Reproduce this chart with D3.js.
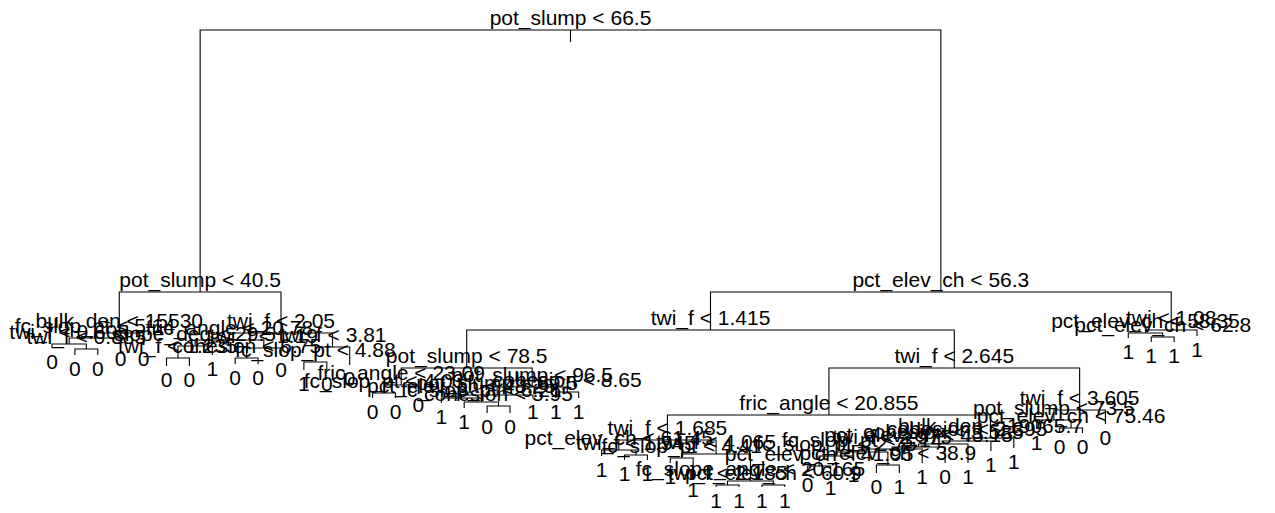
<!DOCTYPE html>
<html><head><meta charset="utf-8">
<script src="https://cdn.jsdelivr.net/npm/d3@7"></script>
<style>body{margin:0;background:#fff} svg{display:block}</style>
</head><body>
<svg id="chart" width="1275" height="513"></svg>
<script>
// Tree nodes, R "tree" numbering (children of n are 2n and 2n+1), in preorder.
const nodeId = [1,2,4,8,16,32,33,66,67,17,9,5,10,20,40,80,81,41,21,42,84,85,43,11,22,44,45,23,
  3,6,12,24,48,96,97,49,25,50,100,200,201,402,403,806,807,101,51,102,103,
  13,26,52,104,208,209,418,419,105,210,420,421,211,422,844,845,423,846,847,
  53,106,212,424,848,1696,3392,6784,13568,13569,6785,3393,6786,6787,1697,849,425,213,107,
  27,54,108,109,218,219,55,7,14,28,29,58,59,15];
// split rule for internal nodes, predicted class for leaves
const nodeLabel = ["pot_slump < 66.5","pot_slump < 40.5","bulk_den < 15530","fc_slop_pt < 5.14","twi_f < 0.605","0","twi_f < 0.885","0","0","0","0",
  "twi_f < 2.05","fric_angle < 20.78","slope_deg < 29.5","twi_f < 1.235","0","0","1","twi_f < 1.19","cohesion < 6.75","0","0","0",
  "twi_f < 3.81","fc_slop_pt < 4.88","1","0","0",
  "pct_elev_ch < 56.3","twi_f < 1.415","pot_slump < 78.5","fric_angle < 23.09","fc_slop_pt < 4.03","0","0","0",
  "pot_slump < 96.5","pot_slump < 69.5","pct_elev_ch < 48.25","1","fc_slop_pt < 6.21","1","cohesion < 5.95","0","0","1",
  "cohesion < 8.65","1","1",
  "twi_f < 2.645","fric_angle < 20.855","twi_f < 1.685","pct_elev_ch < 61.45","1","twi_f < 1.545","1","1",
  "twi_f < 4.065","fc_slop_pt < 4.41","1","1","fc_slope_angle < 20.165","twi_f < 2.185","1","1","pct_elev_ch < 60.9","1","1",
  "bulk_den < 19065.7","cohesion < 2.395","cohesion < 3.585","pct_elev_ch < 45.15","twi_f < 2.975","fc_slop_pt < 3.14",
  "fc_slop_pt < 2.75","pct_elev_ch < 41.95","0","1","1","pct_elev_ch < 38.9","0","1","1","0","1","1","1",
  "twi_f < 3.605","pot_slump < 73.5","1","pct_elev_ch < 75.46","0","0","0",
  "twi < 1.08","pct_elev_ch < 58.35","1","pct_elev_ch < 62.8","1","1","1"];
// node height (deviance scale, root highest)
const nodeDev = [470,208,167,162,156,152,151,145,145,155,155,167,160,154,142,134,134,145,152,142,136,136,144,
  153,138,130,130,135,
  208,170,132,115,107,102,102,109,113,105,102,97,98,92,94,87,87,102,108,102,102,
  132,85,60,50,44,45,40,40,46,42,37,24,19,15,13,13,15,13,13,
  62,59,56,53,51,48,44,34,29,26,39,35,27,27,37,37,37,49,52,
  90,80,71,72,67,67,76,170,167,162,163,158,158,164];

const byId = new Map(nodeId.map((id, i) => [id, {id, label: nodeLabel[i], dev: nodeDev[i]}]));
byId.forEach(n => { n.left = byId.get(2 * n.id); n.right = byId.get(2 * n.id + 1); n.leaf = !n.left; });
const root = byId.get(1);
const leaves = [];
(function walk(n) { if (n.leaf) leaves.push(n); else { walk(n.left); walk(n.right); } })(root);

const x = d3.scaleLinear().domain([0, leaves.length - 1]).range([52, 1197]);
const y = d3.scaleLinear().domain([0, 470]).range([500, 30]);
leaves.forEach((n, i) => n.x = x(i));
(function pos(n) {
  if (!n.leaf) { pos(n.left); pos(n.right); n.x = (n.left.x + n.right.x) / 2; }
  n.y = y(n.dev);
})(root);

const nodes = Array.from(byId.values());
const internal = nodes.filter(n => !n.leaf);
const svg = d3.select("#chart");
svg.append("rect").attr("width", 1275).attr("height", 513).attr("fill", "#fff");

const g = svg.append("g");
g.selectAll("path.branch").data(internal).join("path")
  .attr("class", "branch")
  .attr("d", n => `M${n.left.x},${n.left.y}V${n.y}H${n.right.x}V${n.right.y}`)
  .attr("fill", "none").attr("stroke", "#000").attr("stroke-width", 1.1);
g.append("line").attr("x1", root.x).attr("x2", root.x).attr("y1", root.y).attr("y2", root.y + 12)
  .attr("stroke", "#000").attr("stroke-width", 1.1);

const font = "'Liberation Sans', Arial, sans-serif";
g.selectAll("text.split").data(internal).join("text")
  .attr("class", "split")
  .attr("x", n => n.x).attr("y", n => n.y - 5)
  .attr("text-anchor", "middle").attr("font-family", font).attr("font-size", 21)
  .attr("fill", "#000").text(n => n.label);
g.selectAll("text.leaf").data(leaves).join("text")
  .attr("class", "leaf")
  .attr("x", n => n.x).attr("y", n => n.y + 21)
  .attr("text-anchor", "middle").attr("font-family", font).attr("font-size", 21)
  .attr("fill", "#000").text(n => n.label);
</script>
</body></html>
